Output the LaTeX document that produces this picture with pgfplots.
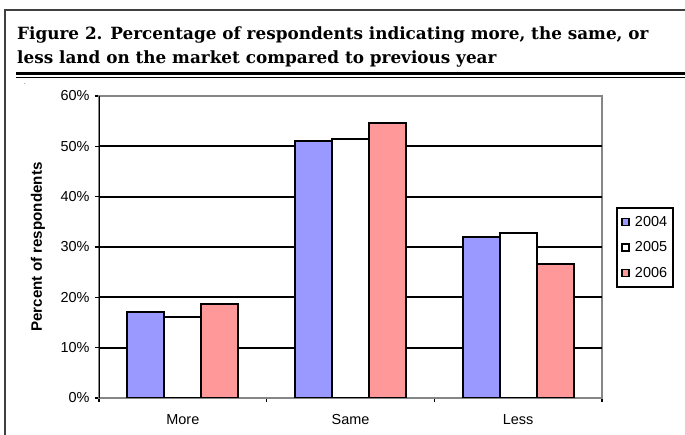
\documentclass[border=0pt]{standalone}
\usepackage{fontspec}
\setmainfont{Liberation Sans}
\newfontfamily\titlefont{DejaVu Serif}
\usepackage{pgfplots}
\pgfplotsset{compat=1.18}
\definecolor{barblue}{HTML}{9999FF}
\definecolor{barpink}{HTML}{FF9999}
\definecolor{framegray}{HTML}{404040}
\definecolor{axgray}{HTML}{868686}

\pgfplotstableread{
x y
0 17.0
1 51.1
2 32.0
}\dataA
\pgfplotstableread{
x y
0 16.0
1 51.4
2 32.8
}\dataB
\pgfplotstableread{
x y
0 18.6
1 54.7
2 26.7
}\dataC

\begin{document}
\begin{tikzpicture}
\useasboundingbox (0,0) rectangle (685bp,435bp);
\fill[white] (0,0) rectangle (685bp,435bp);
% outer frame (left and top)
\draw[framegray, line width=2.5bp] (5bp,-2bp) -- (5bp,425bp) -- (690bp,425bp);
% title
\node[anchor=base west, inner sep=0, font=\titlefont\bfseries\fontsize{16.9}{18}\selectfont] at (17bp,395bp) {Figure 2. Percentage of respondents indicating more, the same, or};
\node[anchor=base west, inner sep=0, font=\titlefont\bfseries\fontsize{16.9}{18}\selectfont] at (17bp,371bp) {less land on the market compared to previous year};
% double rule
\draw[black, line width=2.2bp] (16bp,361.5bp) -- (690bp,361.5bp);
\draw[black, line width=1.6bp] (16bp,357.5bp) -- (690bp,357.5bp);
\node[anchor=base, inner sep=0, font=\fontsize{6}{6}\selectfont] at (25bp,350bp) {.};

\begin{axis}[
  at={(99bp,37bp)}, anchor=south west,
  scale only axis, width=503bp, height=302bp,
  ybar=0pt, bar width=37bp,
  xmin=-0.5, xmax=2.5, ymin=0, ymax=60,
  axis line style={axgray, line width=1.6bp},
  tick align=outside, major tick length=4bp,
  tick style={black, line width=1.2bp},
  xtick pos=bottom, ytick pos=left,
  xtick={-0.5,0.5,1.5,2.5}, xticklabels={},
  extra x ticks={0,1,2}, extra x tick labels={More,Same,Less},
  extra x tick style={major tick length=0pt, xticklabel style={yshift=-13bp}},
  ytick={0,10,20,30,40,50,60},
  yticklabels={0\%,10\%,20\%,30\%,40\%,50\%,60\%},
  extra y ticks={10,20,30,40,50}, extra y tick labels={},
  extra y tick style={ymajorgrids=true, major grid style={black, line width=1.8bp}},
  ticklabel style={font=\fontsize{14.5}{14.5}\selectfont},
  yticklabel style={xshift=-2bp},
  every axis y label/.style={at={(axis description cs:-0.1213,0.5)}, rotate=90, anchor=center, font=\bfseries\fontsize{15.2}{15.2}\selectfont},
  ylabel={Percent of respondents},
  legend style={at={(axis description cs:1.0298,0.3675)}, anchor=south west,
    draw=none, inner xsep=4bp, inner ysep=6bp, name=leg,
    row sep=10bp, font=\fontsize{14.5}{14.5}\selectfont,
    legend cell align=left,
    /tikz/every odd column/.append style={column sep=3bp}},
  legend image code/.code={\draw[#1, line width=1.8bp] (0bp,-3.5bp) rectangle (7bp,3.5bp);},
]
\addplot[fill=barblue, draw=black, line width=2bp] table {\dataA};
\addplot[fill=white, draw=black, line width=2bp] table {\dataB};
\addplot[fill=barpink, draw=black, line width=2bp] table {\dataC};
\legend{2004,2005,2006}
\draw[black, line width=2bp] (rel axis cs:0,0) -- (rel axis cs:0,1);
\end{axis}
\draw[black, line width=2bp] (leg.south west) rectangle (leg.north east);
\end{tikzpicture}
\end{document}
